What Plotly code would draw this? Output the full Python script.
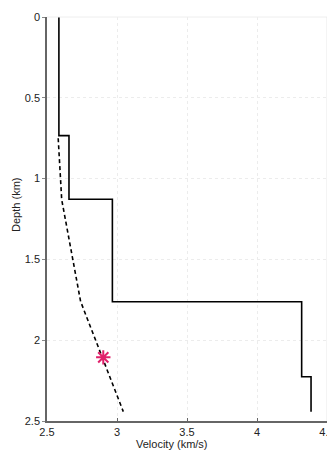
import plotly.graph_objects as go

# Velocity model (solid step profile)
model_vel = [2.585, 2.585, 2.657, 2.657, 2.967, 2.967, 4.319, 4.319, 4.386, 4.386]
model_depth = [0.0, 0.734, 0.734, 1.128, 1.128, 1.762, 1.762, 2.226, 2.226, 2.442]

# Dashed gradient profile
grad_vel = [2.58, 2.605, 2.74, 3.045]
grad_depth = [0.75, 1.13, 1.76, 2.442]

# Star marker
star_vel = [2.902]
star_depth = [2.106]

x_ticks = [2.5, 3, 3.5, 4, 4.5]
x_tick_labels = ["2.5", "3", "3.5", "4", "4.5"]
y_ticks = [0, 0.5, 1, 1.5, 2, 2.5]
y_tick_labels = ["0", "0.5", "1", "1.5", "2", "2.5"]

fig = go.Figure()
fig.add_trace(go.Scatter(x=model_vel, y=model_depth, mode="lines",
                         line=dict(color="black", width=1.6), showlegend=False))
fig.add_trace(go.Scatter(x=grad_vel, y=grad_depth, mode="lines",
                         line=dict(color="black", width=1.6, dash="4px,3px"), showlegend=False))
fig.add_trace(go.Scatter(x=star_vel, y=star_depth, mode="markers",
                         marker=dict(symbol="asterisk", size=12, color="#e0206a",
                                     line=dict(color="#e0206a", width=2)),
                         showlegend=False))

fig.update_layout(
    width=327, height=452,
    margin=dict(l=39, r=8, t=9, b=39, autoexpand=False),
    plot_bgcolor="white", paper_bgcolor="white",
    font=dict(family="Liberation Sans, Arial, sans-serif", size=11, color="#222"),
    xaxis=dict(range=[2.5, 4.5], tickvals=x_ticks, ticktext=x_tick_labels,
               showgrid=True, gridcolor="#ececec", griddash="dot", gridwidth=1,
               zeroline=False, showline=True, linecolor="#666", linewidth=1.5,
               mirror=False, ticks="inside", ticklen=3, tickcolor="#666",
               automargin=False),
    yaxis=dict(range=[2.5, 0], tickvals=y_ticks, ticktext=y_tick_labels,
               showgrid=True, gridcolor="#ececec", griddash="dot", gridwidth=1,
               zeroline=False, showline=True, linecolor="#666", linewidth=1.5,
               mirror=False, ticks="outside", ticklen=3, tickcolor="#888",
               automargin=False),
    shapes=[
        dict(type="line", xref="paper", yref="paper", x0=0, x1=1, y0=1, y1=1,
             line=dict(color="#eeeeee", width=1)),
        dict(type="line", xref="paper", yref="paper", x0=1, x1=1, y0=0, y1=1,
             line=dict(color="#e8e8e8", width=1)),
    ],
    annotations=[
        dict(text="Velocity (km/s)", xref="paper", yref="paper", x=0.446, y=-0.038,
             xanchor="center", yanchor="top", showarrow=False, font=dict(size=11)),
        dict(text="Depth (km)", xref="paper", yref="paper", x=-0.139, y=0.535,
             xanchor="left", yanchor="middle", textangle=-90, showarrow=False,
             font=dict(size=11)),
    ],
)

fig.write_html("out.html")
